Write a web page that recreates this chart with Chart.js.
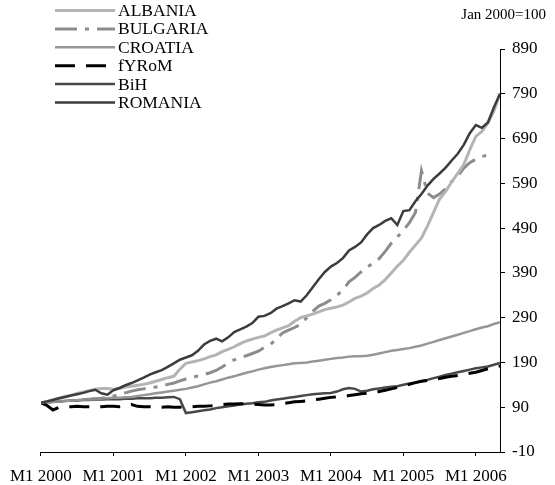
<!DOCTYPE html>
<html>
<head>
<meta charset="utf-8">
<script src="https://cdn.jsdelivr.net/npm/chart.js@4/dist/chart.umd.min.js"></script>
<style>
  body { margin: 0; background: #fff; }
  #wrap { width: 555px; height: 485px; }
</style>
</head>
<body>
<div id="wrap"><canvas id="c" width="555" height="485"></canvas></div>
<script>
// monthly index, Jan 2000 = 100 (month 0 = M1 2000)
const tickMonths = [0, 12, 24, 36, 48, 60, 72];
const tickLabels = ['M1 2000', 'M1 2001', 'M1 2002', 'M1 2003', 'M1 2004', 'M1 2005', 'M1 2006'];
const yTicks = [-10, 90, 190, 290, 390, 490, 590, 690, 790, 890];
const note = 'Jan 2000=100';

const albania = [100,103,107,110,114,117,121,124,127,130,132,132,130,132,135,137,139,141,144,148,
  152,156,159,175,188,191,194,198,203,207,214,219,225,232,238,242,246,249,256,262,
  267,272,282,290,294,298,303,308,311,314,318,325,333,338,345,355,363,375,390,405,
  418,436,452,468,495,525,555,572,593,612,632,665,695,706,725,752,790];
const bulgaria = [100,101,102,103,104,105,106,107,108,109,110,112,115,118,122,126,129,131,133,135,
  138,141,144,149,153,156,160,163,167,172,180,189,196,201,205,210,215,224,230,243,
  256,262,268,275,290,304,316,322,330,340,352,370,380,392,403,412,422,438,456,470,
  485,502,525,618,568,558,566,578,594,606,624,636,644,650,653,null,null];
const croatia = [100,101,102,103,104,105,106,107,108,109,110,110,111,111,112,113,115,117,119,121,
  123,125,127,129,131,134,137,141,145,148,152,156,159,163,167,170,174,177,180,182,
  184,186,188,189,190,192,194,196,198,200,201,203,204,204,205,207,210,213,216,218,
  220,222,225,228,232,236,240,244,248,252,256,260,264,268,271,276,280];
const fyrom = [100,94,84,90,91,91,92,91,91,90,91,92,92,91,92,96,92,91,91,90,
  90,91,90,90,91,91,92,92,93,94,96,97,97,98,98,97,96,95,95,96,
  98,100,102,103,104,106,108,110,112,113,114,116,118,120,121,122,125,128,131,134,
  137,141,145,148,150,152,154,157,159,161,163,166,168,172,176,180,182];
const bih = [100,101,102,103,104,105,105,106,106,107,107,108,108,108,109,109,110,110,110,111,
  111,112,113,108,77,79,81,83,85,88,90,92,94,96,98,99,101,102,105,107,
  109,111,113,115,117,119,120,121,122,125,130,133,131,125,127,130,132,134,136,137,
  140,143,145,148,151,155,158,162,165,168,171,174,177,179,181,185,189];
const romania = [100,103,106,110,113,116,119,122,126,129,121,118,128,133,139,144,150,156,163,168,
  173,180,188,196,201,206,216,230,238,243,237,246,258,264,270,278,292,294,300,310,
  316,322,329,326,340,358,376,392,404,412,423,440,448,458,476,490,497,506,512,497,
  528,530,550,566,585,600,612,625,641,656,676,702,720,714,726,760,790];

function pts(arr) {
  return arr.map((v, i) => ({ x: i, y: v }));
}

const serif = '"Liberation Serif", "Times New Roman", serif';

const legendPlugin = {
  id: 'sideLegend',
  afterDraw(chart) {
    const ctx = chart.ctx;
    ctx.save();
    ctx.font = '17.5px ' + serif;
    ctx.textBaseline = 'middle';
    ctx.fillStyle = '#000';
    chart.data.datasets.forEach((ds, i) => {
      const y = 10.5 + i * 18.4;
      ctx.beginPath();
      ctx.strokeStyle = ds.borderColor;
      ctx.lineWidth = ds.borderWidth;
      ctx.setLineDash(ds.borderDash || []);
      ctx.moveTo(55, y);
      ctx.lineTo(115, y);
      ctx.stroke();
      ctx.setLineDash([]);
      ctx.fillText(ds.label, 118, y + 1);
    });
    ctx.font = '15px ' + serif;
    ctx.textAlign = 'right';
    ctx.fillText(note, 546, 15);
    ctx.restore();
  }
};

const chartDatasets = [
  { label: 'ALBANIA', data: pts(albania), borderColor: '#b4b4b4', borderWidth: 3, order: 1 },
  { label: 'BULGARIA', data: pts(bulgaria), borderColor: '#8c8c8c', borderWidth: 3, borderDash: [22, 8, 4, 8], order: 3 },
  { label: 'CROATIA', data: pts(croatia), borderColor: '#969696', borderWidth: 2.5, order: 4 },
  { label: 'fYRoM', data: pts(fyrom), borderColor: '#000000', borderWidth: 3, borderDash: [20, 11], order: 2 },
  { label: 'BiH', data: pts(bih), borderColor: '#484848', borderWidth: 2.5, order: 5 },
  { label: 'ROMANIA', data: pts(romania), borderColor: '#3c3c3c', borderWidth: 2.5, order: 0 }
];

const chart = new Chart(document.getElementById('c'), {
  type: 'line',
  data: { datasets: chartDatasets },
  options: {
    responsive: false,
    animation: false,
    events: [],
    elements: {
      point: { radius: 0 },
      line: { tension: 0, fill: false, borderCapStyle: 'butt' }
    },
    layout: { padding: { left: 36, top: 49, right: 0, bottom: 0 } },
    plugins: {
      legend: { display: false },
      tooltip: { enabled: false }
    },
    scales: {
      x: {
        type: 'linear',
        min: 0,
        max: 76,
        afterBuildTicks: (scale) => { scale.ticks = tickMonths.map(v => ({ value: v })); },
        afterFit: (scale) => { scale.height = 33; },
        grid: { drawOnChartArea: false, drawTicks: true, tickLength: 4, color: '#000' },
        border: { display: true, color: '#000', width: 1 },
        ticks: {
          color: '#000',
          font: { family: serif, size: 17 },
          padding: 10,
          maxRotation: 0,
          autoSkip: false,
          callback: (v) => tickLabels[tickMonths.indexOf(v)]
        }
      },
      y: {
        position: 'right',
        min: -10,
        max: 890,
        afterBuildTicks: (scale) => { scale.ticks = yTicks.map(v => ({ value: v })); },
        afterFit: (scale) => { scale.width = 55; },
        grid: { drawOnChartArea: false, drawTicks: true, tickLength: 5, color: '#000' },
        border: { display: true, color: '#000', width: 1 },
        ticks: {
          color: '#000',
          font: { family: serif, size: 17 },
          padding: 7
        }
      }
    }
  },
  plugins: [legendPlugin]
});
</script>
</body>
</html>
